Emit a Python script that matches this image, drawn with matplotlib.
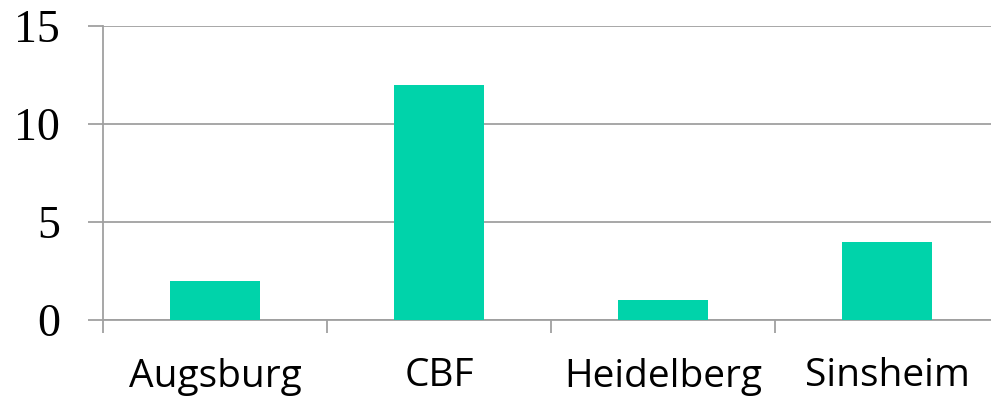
import numpy as np
import matplotlib
matplotlib.use("Agg")
import matplotlib.pyplot as plt

categories = ["Augsburg", "CBF", "Heidelberg", "Sinsheim"]
values = [2, 12, 1, 4]
yticks = [0, 5, 10, 15]

BAR_COLOR = "#00d3aa"
GRID_COLOR = "#a0a0a0"

fig = plt.figure(figsize=(9.91, 4.0), dpi=100)
ax = fig.add_axes([103 / 991, 80 / 400, 896 / 991, 294 / 400])

x = np.arange(len(categories))
ax.bar(x, values, width=0.4, color=BAR_COLOR, zorder=3)

ax.set_xlim(-0.5, len(categories) - 0.5)
ax.set_ylim(0, 15)

ax.set_yticks(yticks)
ax.set_yticklabels([str(t) for t in yticks], fontfamily="Liberation Serif", fontsize=33)
ax.tick_params(axis="y", length=11, width=1.3, color=GRID_COLOR, pad=20)
ax.yaxis.grid(True, color=GRID_COLOR, linewidth=1.3, zorder=0)

# category labels at centres, tick marks at boundaries
ax.set_xticks(x)
ax.set_xticklabels(categories, fontfamily="Open Sans", fontsize=28)
ax.tick_params(axis="x", which="major", length=0, pad=27)
ax.set_xticks(np.arange(len(categories) + 1) - 0.5, minor=True)
ax.tick_params(axis="x", which="minor", length=9.5, width=1.3, color=GRID_COLOR)

for side in ("top", "right"):
    ax.spines[side].set_visible(False)
for side in ("left", "bottom"):
    ax.spines[side].set_color(GRID_COLOR)
    ax.spines[side].set_linewidth(1.3)

fig.savefig("out.png", dpi=100)
